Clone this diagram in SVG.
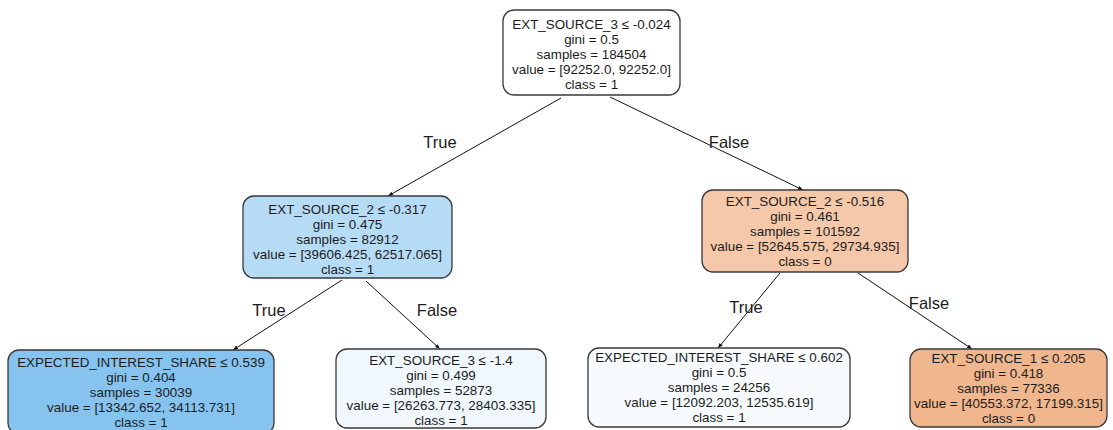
<svg xmlns="http://www.w3.org/2000/svg" width="1113" height="430" viewBox="0 0 1113 430">
<style>
.box{stroke:#3a3a3a;stroke-width:1.3}
.t{font-family:"Liberation Sans",Arial,sans-serif;font-size:13.4px;fill:#1c1c1c;text-anchor:middle}
.lbl{font-family:"Liberation Sans",Arial,sans-serif;font-size:16.5px;fill:#1c1c1c;text-anchor:middle}
.edge{stroke:#111;stroke-width:1;fill:none;marker-end:url(#arr)}
</style>
<defs>
<marker id="arr" viewBox="0 0 10 10" refX="10" refY="5" markerWidth="5" markerHeight="5" orient="auto" markerUnits="userSpaceOnUse">
<path d="M0,1 L10,5 L0,9 Z" fill="#111"/>
</marker>
</defs>
<rect width="1113" height="430" fill="#ffffff"/>
<g id="connectors">
<line class="edge" x1="561" y1="98" x2="388" y2="196"/>
<line class="edge" x1="610" y1="97" x2="803" y2="190"/>
<line class="edge" x1="342" y1="280" x2="233" y2="350"/>
<line class="edge" x1="366" y1="281" x2="440" y2="349"/>
<line class="edge" x1="780" y1="273" x2="718" y2="348"/>
<line class="edge" x1="858" y1="273" x2="972" y2="349"/>
<text class="lbl" x="440" y="148">True</text>
<text class="lbl" x="729" y="148">False</text>
<text class="lbl" x="269" y="316">True</text>
<text class="lbl" x="437" y="316">False</text>
<text class="lbl" x="746" y="313">True</text>
<text class="lbl" x="929" y="309">False</text>
</g>
<g id="node0">
<rect class="box" x="503" y="10" width="177" height="85" rx="11" fill="#ffffff"/>
<text class="t" x="591.5" y="28.5">EXT_SOURCE_3 ≤ -0.024</text>
<text class="t" x="591.5" y="43.5">gini = 0.5</text>
<text class="t" x="591.5" y="58.5">samples = 184504</text>
<text class="t" x="591.5" y="73.5">value = [92252.0, 92252.0]</text>
<text class="t" x="591.5" y="89">class = 1</text>
</g>
<g id="node1">
<rect class="box" x="243" y="196" width="209" height="82" rx="11" fill="#b6dbf5"/>
<text class="t" x="347.5" y="213.5">EXT_SOURCE_2 ≤ -0.317</text>
<text class="t" x="347.5" y="228.5">gini = 0.475</text>
<text class="t" x="347.5" y="243.5">samples = 82912</text>
<text class="t" x="347.5" y="258.5">value = [39606.425, 62517.065]</text>
<text class="t" x="347.5" y="273.5">class = 1</text>
</g>
<g id="node2">
<rect class="box" x="702" y="190" width="206" height="82" rx="11" fill="#f4c8a9"/>
<text class="t" x="805" y="205.5">EXT_SOURCE_2 ≤ -0.516</text>
<text class="t" x="805" y="220.5">gini = 0.461</text>
<text class="t" x="805" y="235.5">samples = 101592</text>
<text class="t" x="805" y="250.5">value = [52645.575, 29734.935]</text>
<text class="t" x="805" y="265.5">class = 0</text>
</g>
<g id="node3">
<rect class="box" x="8" y="350" width="266" height="84" rx="11" fill="#86c3ef"/>
<text class="t" x="141" y="366.5">EXPECTED_INTEREST_SHARE ≤ 0.539</text>
<text class="t" x="141" y="381.5">gini = 0.404</text>
<text class="t" x="141" y="396.5">samples = 30039</text>
<text class="t" x="141" y="411.5">value = [13342.652, 34113.731]</text>
<text class="t" x="141" y="426.5">class = 1</text>
</g>
<g id="node4">
<rect class="box" x="336" y="349" width="210" height="79" rx="11" fill="#f0f8fd"/>
<text class="t" x="441" y="365">EXT_SOURCE_3 ≤ -1.4</text>
<text class="t" x="441" y="380">gini = 0.499</text>
<text class="t" x="441" y="395">samples = 52873</text>
<text class="t" x="441" y="410">value = [26263.773, 28403.335]</text>
<text class="t" x="441" y="425">class = 1</text>
</g>
<g id="node5">
<rect class="box" x="588" y="348" width="262" height="79" rx="11" fill="#f8fbfe"/>
<text class="t" x="719" y="361.5">EXPECTED_INTEREST_SHARE ≤ 0.602</text>
<text class="t" x="719" y="376.5">gini = 0.5</text>
<text class="t" x="719" y="391.5">samples = 24256</text>
<text class="t" x="719" y="406.5">value = [12092.203, 12535.619]</text>
<text class="t" x="719" y="421.5">class = 1</text>
</g>
<g id="node6">
<rect class="box" x="910" y="349" width="197" height="78" rx="11" fill="#f0b68d"/>
<text class="t" x="1008.5" y="362.5">EXT_SOURCE_1 ≤ 0.205</text>
<text class="t" x="1008.5" y="377.5">gini = 0.418</text>
<text class="t" x="1008.5" y="392.5">samples = 77336</text>
<text class="t" x="1008.5" y="407.5">value = [40553.372, 17199.315]</text>
<text class="t" x="1008.5" y="422.5">class = 0</text>
</g>
</svg>
